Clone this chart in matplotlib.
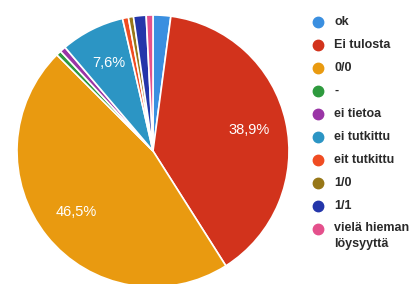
import matplotlib
matplotlib.use("Agg")
import matplotlib.pyplot as plt

labels = ['ok', 'Ei tulosta', '0/0', '-', 'ei tietoa', 'ei tutkittu',
          'eit tutkittu', '1/0', '1/1', 'vielä hieman\nlöysyyttä']
values = [2.1, 38.9, 46.5, 0.6, 0.7, 7.6, 0.7, 0.6, 1.5, 0.8]
colors = ['#3a8fe0', '#d2331c', '#e99a10', '#2e9a3e', '#9a35a6', '#2c95c4',
          '#f04c22', '#977718', '#2436aa', '#e4508c']

W, H = 419, 284
fig = plt.figure(figsize=(W / 100, H / 100), dpi=100)
fig.patch.set_facecolor('white')

cx, cy, r = 153, 151, 136
ax = fig.add_axes([(cx - r) / W, (H - cy - r) / H, 2 * r / W, 2 * r / H])


def pct(p):
    return ('%.1f%%' % p).replace('.', ',') if p > 5 else ''


wedges, texts, autotexts = ax.pie(values, colors=colors, startangle=90, counterclock=False,
                                  autopct=pct, pctdistance=0.72,
                                  wedgeprops=dict(edgecolor='white', linewidth=1.2),
                                  textprops=dict(color='white', fontsize=10.5, family='Liberation Sans'))
ax.set_xlim(-1, 1)
ax.set_ylim(-1, 1)
ax.axis('off')

# legend drawn by hand, in pixel coords
lg = fig.add_axes([0, 0, 1, 1], zorder=5)
lg.set_xlim(0, W)
lg.set_ylim(H, 0)
lg.axis('off')
y0, step = 22, 23
for i, (lab, c) in enumerate(zip(labels, colors)):
    y = y0 + i * step
    lg.plot(318, y, marker='o', markersize=7.5, color=c, markeredgecolor=c)
    if '\n' in lab:
        lg.text(334, y - 7, lab, va='top', ha='left', fontsize=9, fontweight='bold',
                family='Liberation Sans', color='#2a2a2a', linespacing=1.45)
    else:
        lg.text(334, y, lab, va='center', ha='left', fontsize=9, fontweight='bold',
                family='Liberation Sans', color='#2a2a2a')

fig.savefig('out.png', dpi=100, facecolor='white')
